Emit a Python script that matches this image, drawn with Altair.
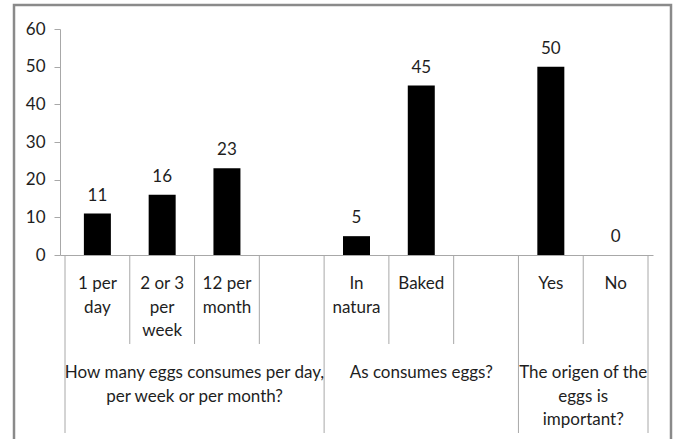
import altair as alt
import pandas as pd

# Survey answers, one slot per category (blank slots separate the questions)
categories = ["1 per\nday", "2 or 3\nper\nweek", "12 per\nmonth", "",
              "In\nnatura", "Baked", "", "Yes", "No"]
values = [11, 16, 23, None, 5, 45, None, 50, 0]

# Question labels and how many category slots each one spans
groups = ["How many eggs consumes per day,\nper week or per month?",
          "As consumes eggs?",
          "The origen of the\neggs is\nimportant?"]
group_sizes = [4, 3, 2]

y_ticks = [0, 10, 20, 30, 40, 50, 60]

FONT = "Lato"
TEXT = "#1e1e1e"
LINE = "#a8a8a8"
W, H = 593, 226
FS_TEXT = 17
FS_NUM = 17

cat_df = pd.DataFrame({
    "pos": [i + 0.5 for i in range(len(categories))],
    "label": categories,
    "value": values,
})
bar_df = cat_df.dropna(subset=["value"])

starts = [sum(group_sizes[:k]) for k in range(len(group_sizes))]
group_df = pd.DataFrame({
    "center": [s + n / 2 for s, n in zip(starts, group_sizes)],
    "label": groups,
})

n = len(categories)
long_edges = set(starts) | {n}
sep_df = pd.DataFrame({
    "edge": list(range(n + 1)),
    "long": [e in long_edges for e in range(n + 1)],
})

x_scale = alt.Scale(domain=[0, n], nice=False, zero=False)
y_scale = alt.Scale(domain=[0, 60], nice=False)

# Same axis definitions on every layer so the merged axes keep them
x_axis = alt.Axis(labels=False, ticks=False, grid=False, title=None,
                  domainColor=LINE, domainWidth=1)
y_axis = alt.Axis(values=y_ticks, tickCount=7, labelOverlap=False,
                  grid=False, title=None, tickSize=6, tickColor=LINE,
                  domainColor=LINE, labelPadding=9, labelFont=FONT,
                  labelFontSize=FS_NUM, labelColor=TEXT)

X_POS = alt.X("pos:Q", scale=x_scale, axis=x_axis)
Y_VAL = alt.Y("value:Q", scale=y_scale, axis=y_axis)

bars = alt.Chart(bar_df).mark_bar(width=27, color="black").encode(
    x=X_POS, y=Y_VAL,
)

value_labels = alt.Chart(bar_df).mark_text(
    font=FONT, fontSize=FS_NUM, color=TEXT, baseline="alphabetic", dy=-13
).encode(
    x=X_POS, y=Y_VAL,
    text=alt.Text("value:Q", format="d"),
)

cat_labels = alt.Chart(cat_df).mark_text(
    font=FONT, fontSize=FS_TEXT, color=TEXT, baseline="top", lineBreak="\n",
    lineHeight=23.5, align="center"
).encode(
    x=X_POS,
    y=alt.value(H + 21),
    text="label:N",
)

group_labels = alt.Chart(group_df).mark_text(
    font=FONT, fontSize=FS_TEXT, color=TEXT, baseline="top", lineBreak="\n",
    lineHeight=23.5, align="center"
).encode(
    x=alt.X("center:Q", scale=x_scale, axis=x_axis),
    y=alt.value(H + 110),
    text="label:N",
)

short_seps = alt.Chart(sep_df[~sep_df["long"]]).mark_rule(
    color=LINE, strokeWidth=1
).encode(
    x=alt.X("edge:Q", scale=x_scale, axis=x_axis),
    y=alt.value(H),
    y2=alt.value(H + 89),
)

long_seps = alt.Chart(sep_df[sep_df["long"]]).mark_rule(
    color=LINE, strokeWidth=1
).encode(
    x=alt.X("edge:Q", scale=x_scale, axis=x_axis),
    y=alt.value(H),
    y2=alt.value(H + 178),
)

frame = alt.Chart(cat_df.head(1)).mark_rect(
    fill=None, stroke="#8a8a8a", strokeWidth=2.5
).encode(
    x=alt.value(-46), x2=alt.value(611),
    y=alt.value(-24), y2=alt.value(430),
)

chart = alt.layer(
    frame, short_seps, long_seps, bars, value_labels, cat_labels, group_labels
).properties(
    width=W, height=H,
    autosize=alt.AutoSizeParams(type="none"),
    padding={"left": 60, "top": 29, "right": 23, "bottom": 184},
    background="white",
).configure_view(stroke=None)

chart.save("out.html", embed_options={"renderer": "svg", "actions": False})
